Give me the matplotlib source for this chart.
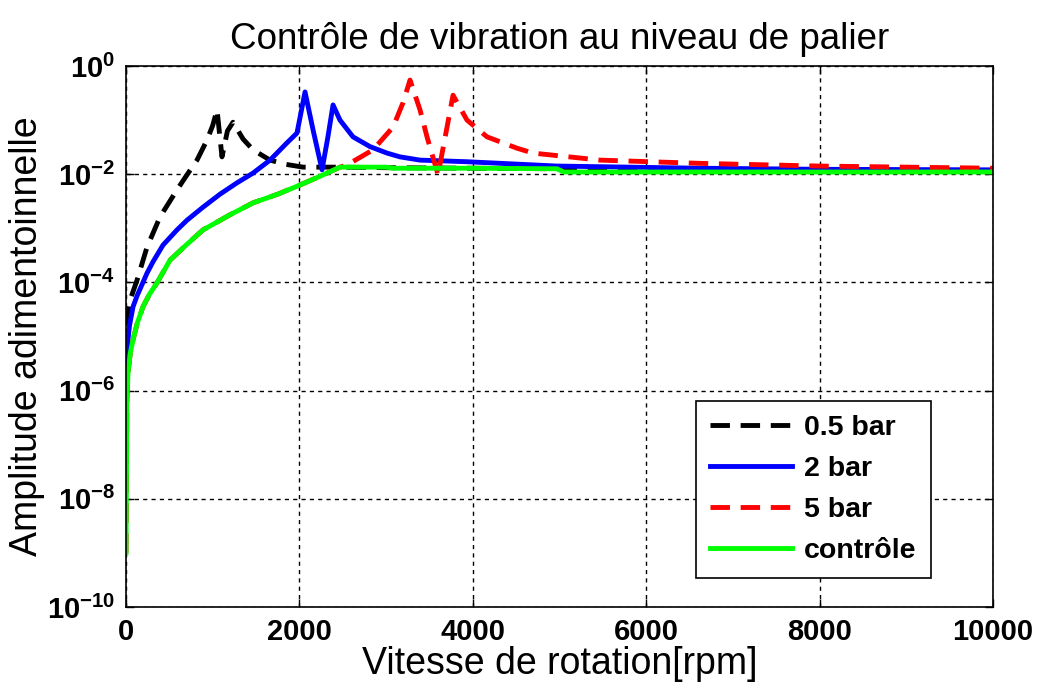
import numpy as np
import matplotlib
matplotlib.use('Agg')
from matplotlib import pyplot as plt
from matplotlib.ticker import FixedLocator, FuncFormatter, NullLocator

plt.rcParams['font.family'] = ['Liberation Sans', 'DejaVu Sans']
plt.rcParams['mathtext.fontset'] = 'custom'
plt.rcParams['mathtext.rm'] = 'Liberation Sans'
plt.rcParams['mathtext.bf'] = 'Liberation Sans:bold'

# speed in rpm, amplitude given as log10 values
x_05 = [0, 20, 46, 127, 242, 392, 588, 700, 819, 934, 1000, 1050, 1107, 1170, 1234, 1350,
        1465, 1661, 1850, 2042, 2434, 3000, 5000, 10000]
log_05 = [-4.8, -4.6, -4.33, -3.96, -3.35, -2.79, -2.29, -2.02, -1.74, -1.37, -1.1, -0.81,
          -1.68, -1.2, -1.04, -1.35, -1.55, -1.74, -1.82, -1.87, -1.87, -1.88, -1.90, -1.95]

x_2 = [0, 20, 40, 81, 127, 242, 311, 427, 588, 704, 888, 1084, 1280, 1465, 1661, 1857, 1972,
       2065, 2160, 2261, 2330, 2388, 2468, 2618, 2814, 3010, 3160, 3391, 3933, 4970, 6620,
       8000, 10000]
log_2 = [-5.6, -5.1, -4.8, -4.45, -4.25, -3.83, -3.62, -3.31, -3.03, -2.85, -2.61, -2.37,
         -2.16, -1.98, -1.74, -1.42, -1.24, -0.48, -1.2, -1.92, -1.3, -0.72, -1.0, -1.31,
         -1.49, -1.61, -1.68, -1.74, -1.77, -1.85, -1.89, -1.91, -1.92]

x_5 = [0, 10, 23, 50, 81, 130, 196, 270, 357, 507, 700, 888, 1200, 1465, 1750, 2007, 2250,
       2468, 2549, 2849, 3080, 3195, 3276, 3391, 3472, 3599, 3703, 3772, 3933, 4164, 4510,
       4694, 5467, 6620, 8000, 10000]
log_5 = [-9.0, -6.2, -5.67, -5.3, -5.06, -4.75, -4.45, -4.22, -4.01, -3.59, -3.3, -3.03,
         -2.75, -2.53, -2.37, -2.2, -2.03, -1.87, -1.83, -1.55, -1.13, -0.68, -0.26, -0.81,
         -1.31, -2.01, -1.13, -0.54, -1.0, -1.31, -1.52, -1.61, -1.74, -1.80, -1.85, -1.89]

x_ctrl = [0, 10, 23, 50, 81, 130, 196, 270, 357, 507, 700, 888, 1200, 1465, 1750, 2007,
          2250, 2468, 3000, 3080, 4000, 4970, 5050, 6000, 8000, 10000]
log_ctrl = [-9.0, -6.2, -5.67, -5.3, -5.06, -4.75, -4.45, -4.22, -4.01, -3.59, -3.3, -3.03,
            -2.75, -2.53, -2.37, -2.2, -2.03, -1.87, -1.87, -1.89, -1.89, -1.90, -1.96,
            -1.96, -1.96, -1.96]

labels = ['0.5 bar', '2 bar', '5 bar', 'contrôle']
y_ticks = [1e-10, 1e-8, 1e-6, 1e-4, 1e-2, 1e0]
x_ticks = [0, 2000, 4000, 6000, 8000, 10000]

fig = plt.figure(figsize=(10.38, 6.93), dpi=100)
ax = fig.add_axes([0.1214, 0.1241, 0.8352, 0.7807])

lw = 3.5
ax.plot(x_05, 10 ** np.array(log_05), color='black', lw=lw, dashes=(4, 2.2), label=labels[0])
ax.plot(x_2, 10 ** np.array(log_2), color='blue', lw=lw, label=labels[1])
ax.plot(x_5, 10 ** np.array(log_5), color='red', lw=lw, dashes=(4, 2.2), label=labels[2])
ax.plot(x_ctrl, 10 ** np.array(log_ctrl), color='#00ff00', lw=lw, label=labels[3])

ax.set_yscale('log')
ax.set_xlim(0, 10000)
ax.set_ylim(1e-10, 1e0)
ax.xaxis.set_major_locator(FixedLocator(x_ticks))
ax.yaxis.set_major_locator(FixedLocator(y_ticks))
ax.yaxis.set_minor_locator(NullLocator())
ax.yaxis.set_major_formatter(FuncFormatter(
    lambda v, p: r'$\mathbf{10^{%d}}$' % int(round(np.log10(v)))))
ax.xaxis.set_major_formatter(FuncFormatter(lambda v, p: '%d' % v))

ax.tick_params(axis='both', which='major', direction='in', length=6, width=1,
               top=True, right=True, labelsize=21, pad=8)
for tl in ax.get_xticklabels():
    tl.set_fontweight('bold')
ax.grid(True, color='black', linestyle=(0, (3, 3)), linewidth=1)
for s in ax.spines.values():
    s.set_linewidth(1.2)

ax.set_title('Contrôle de vibration au niveau de palier', fontsize=26.5, pad=12)
ax.set_xlabel('Vitesse de rotation[rpm]', fontsize=27, labelpad=0)
ax.set_ylabel('Amplitude adimentoinnelle', fontsize=27, labelpad=1)

leg = ax.legend(loc='lower right', bbox_to_anchor=(0.928, 0.054), fancybox=False,
                framealpha=1, edgecolor='black', prop={'weight': 'bold', 'size': 20.5},
                handlelength=2.9, labelspacing=0.52, borderpad=0.5, handletextpad=0.4,
                borderaxespad=0)
leg.get_frame().set_linewidth(1.2)

fig.savefig('out.png', dpi=100)
